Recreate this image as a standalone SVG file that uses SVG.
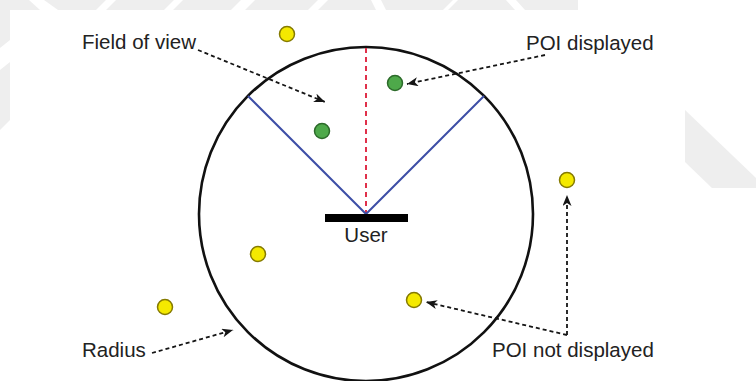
<svg xmlns="http://www.w3.org/2000/svg" width="756" height="381" viewBox="0 0 756 381">
  <defs>
    <style>
      .wm { fill: #eeeeee; }
      .gap { fill: #ffffff; }
      .label { font-family: "Liberation Sans", Arial, sans-serif; font-size: 20.5px; fill: #222222; }
      .ptr { fill: none; stroke: #151515; stroke-width: 1.8; stroke-dasharray: 4 3; marker-end: url(#head); }
      .poi-out { fill: #f4e900; stroke: #857a00; stroke-width: 1.5; }
      .poi-in { fill: #4ea94a; stroke: #2c6a2a; stroke-width: 1.5; }
      .fov { stroke: #3d4ea6; stroke-width: 2; fill: none; }
      .heading { stroke: #e0304a; stroke-width: 2; stroke-dasharray: 5 4; fill: none; }
    </style>
    <marker id="head" markerUnits="userSpaceOnUse" markerWidth="12" markerHeight="10" refX="11" refY="4.5" orient="auto">
      <path d="M0,0 L11,4.5 L0,9 L3,4.5 Z" fill="#151515"/>
    </marker>
  </defs>

  <!-- background with faint chevron band -->
  <rect x="0" y="0" width="756" height="381" fill="#ffffff"/>
  <g id="backdrop">
    <rect class="wm" x="0" y="0" width="578" height="10"/>
    <polygon class="gap" points="29,0 44,0 58,10 40,10"/>
    <polygon class="gap" points="106,0 116,0 106,10 96,10"/>
    <polygon class="gap" points="174,0 183,0 173,10 164,10"/>
    <polygon class="gap" points="241,0 255,0 245,10 231,10"/>
    <polygon class="gap" points="318,0 328,0 318,10 308,10"/>
    <polygon class="gap" points="371,0 381,0 386,10 376,10"/>
    <polygon class="gap" points="453,0 458,0 448,10 443,10"/>
    <polygon class="gap" points="506,0 516,0 525,10 515,10"/>
    <polygon class="wm" points="0,10 10,10 10,40 0,48"/>
    <polygon class="wm" points="0,70 10,62 10,120 0,130"/>
    <polygon class="wm" points="685,110 756,178 756,188 712,188 685,162"/>
  </g>

  <!-- search radius -->
  <g id="radius">
    <circle cx="366" cy="214" r="167" fill="none" stroke="#111111" stroke-width="2.6"/>
  </g>

  <!-- field of view wedge and heading -->
  <g id="field-of-view">
    <line class="heading" x1="366" y1="48" x2="366" y2="213"/>
    <polyline class="fov" points="248,96 366,214 484,96"/>
  </g>

  <!-- user -->
  <g id="user">
    <rect x="325" y="214" width="83" height="8" fill="#000000"/>
    <text class="label" x="366" y="242" text-anchor="middle">User</text>
  </g>

  <!-- points of interest -->
  <g id="poi-top"><circle class="poi-out" cx="287" cy="34" r="7.5"/></g>
  <g id="poi-fov-1"><circle class="poi-in" cx="322" cy="131" r="7.5"/></g>
  <g id="poi-fov-2"><circle class="poi-in" cx="395" cy="83" r="7.5"/></g>
  <g id="poi-right"><circle class="poi-out" cx="567" cy="180" r="7.5"/></g>
  <g id="poi-inner-left"><circle class="poi-out" cx="258" cy="254" r="7.5"/></g>
  <g id="poi-outer-left"><circle class="poi-out" cx="165" cy="307" r="7.5"/></g>
  <g id="poi-inner-right"><circle class="poi-out" cx="414" cy="300" r="7.5"/></g>

  <!-- labels -->
  <g id="label-fov"><text class="label" x="82" y="49">Field of view</text></g>
  <g id="label-displayed"><text class="label" x="526" y="50">POI displayed</text></g>
  <g id="label-radius"><text class="label" x="82" y="357">Radius</text></g>
  <g id="label-hidden"><text class="label" x="492" y="357">POI not displayed</text></g>

  <!-- pointers -->
  <g id="connectors">
    <path class="ptr" d="M198,50 L325,102"/>
    <path class="ptr" d="M545,55 L407,84"/>
    <path class="ptr" d="M152,353 L233,330"/>
    <path class="ptr" d="M567,335 L567,195"/>
    <path class="ptr" d="M567,335 L426,302"/>
  </g>
</svg>
